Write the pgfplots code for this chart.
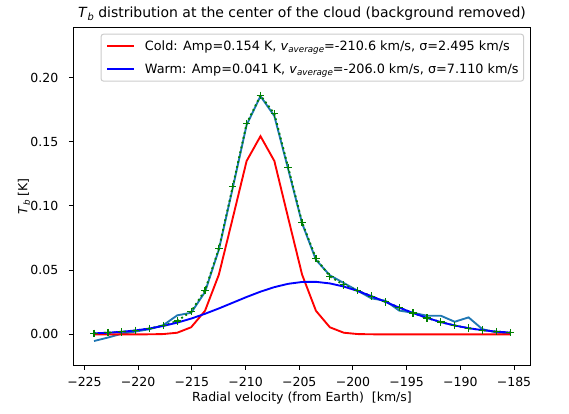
\documentclass[border=0pt]{standalone}
\usepackage{fontspec}
\setmainfont{DejaVu Sans}
\usepackage{pgfplots}
\pgfplotsset{compat=1.18}
\definecolor{mplblue}{HTML}{1F77B4}
\definecolor{mplgreen}{HTML}{008000}
\newcommand{\subten}[1]{\raisebox{-2.0pt}{\fontsize{7}{8}\selectfont\itshape #1}}
\newcommand{\subtwelve}[1]{\raisebox{-2.2pt}{\fontsize{7.9}{9}\selectfont\itshape #1}}
\begin{document}
\begin{tikzpicture}
\useasboundingbox (0,0) rectangle (455.2pt,331.2pt);
\begin{axis}[
  at={(58.64pt,38.96pt)}, anchor=south west,
  scale only axis, width=365.9pt, height=270.4pt,
  xmin=-226.04, xmax=-183.45, ymin=-0.0241, ymax=0.2391,
  xtick={-225,-220,-215,-210,-205,-200,-195,-190,-185},
  xticklabels={−225,−220,−215,−210,−205,−200,−195,−190,−185},
  ytick={0,0.05,0.1,0.15,0.2},
  yticklabels={0.00,0.05,0.10,0.15,0.20},
  xtick pos=bottom, ytick pos=left,
  tick align=outside, major tick length=3.5pt,
  tick style={black, line width=0.8pt},
  axis line style={black, line width=0.8pt},
  ticklabel style={font=\fontsize{10}{12}\selectfont},
  xticklabel style={anchor=base, inner sep=0pt, yshift=-13.2pt},
  yticklabel style={anchor=east, inner sep=0pt, xshift=-8.3pt},
  title={\textit{T}\subtwelve{b} distribution at the center of the cloud (background removed)},
  title style={at={(axis description cs:0.5,1)}, anchor=base, yshift=2pt, inner sep=0pt, font=\fontsize{11.2}{13}\selectfont},
  xlabel={Radial velocity (from Earth)\ \ [km/s]},
  xlabel style={at={(axis description cs:0.5,0)}, anchor=base, yshift=-29.2pt, inner sep=0pt, font=\fontsize{10}{12}\selectfont},
  ylabel={\textit{T}\subten{b} [K]},
  ylabel style={at={(axis description cs:-0.1077,0.5)}, anchor=center, inner sep=0pt, font=\fontsize{10}{12}\selectfont},
  legend style={at={(1,1)}, anchor=north east, xshift=-5.3pt, yshift=-5.1pt,
    draw=black!20, rounded corners=2pt, fill=white, line width=0.8pt,
    font=\fontsize{10.25}{12}\selectfont, inner xsep=4pt, inner ysep=5pt, row sep=9pt,
    nodes={inner sep=0pt},
    /tikz/every odd column/.append style={column sep=8pt}},
  legend cell align=left,
  legend image code/.code={\draw[#1, line width=1.5pt] (0pt,0pt) -- (21.6pt,0pt);},
]
% observed spectrum
\addplot[mplblue, line width=1.5pt, forget plot] coordinates {
(-224.110,-0.0052) (-222.818,-0.0025) (-221.527,0.0005) (-220.235,0.0022)
(-218.943,0.0040) (-217.652,0.0072) (-216.360,0.0148) (-215.068,0.0168)
(-213.776,0.0330) (-212.485,0.0660) (-211.193,0.1140) (-209.901,0.1630)
(-208.610,0.1855) (-207.318,0.1700) (-206.026,0.1285) (-204.735,0.0865)
(-203.443,0.0580) (-202.151,0.0460) (-200.859,0.0400) (-199.568,0.0340)
(-198.276,0.0280) (-196.984,0.0262) (-195.693,0.0185) (-194.401,0.0168)
(-193.109,0.0145) (-191.818,0.0145) (-190.526,0.0098) (-189.234,0.0132)
(-187.942,0.0040) (-186.651,0.0015) (-185.359,0.0008)
};
% total fit
\addplot[mplgreen, line width=1.5pt, dash pattern=on 1.5pt off 2.475pt, mark=+, mark size=3pt, mark options={solid, line width=1pt}, forget plot] coordinates {
(-224.110,0.00077) (-222.818,0.00126) (-221.527,0.00199) (-220.235,0.00306)
(-218.943,0.00458) (-217.652,0.00678) (-216.360,0.01038) (-215.068,0.01778)
(-213.776,0.0343) (-212.485,0.06667) (-211.193,0.11512) (-209.901,0.16409)
(-208.610,0.1860) (-207.318,0.17177) (-206.026,0.12986) (-204.735,0.08728)
(-203.443,0.05918) (-202.151,0.04516) (-200.859,0.03853) (-199.568,0.03402)
(-198.276,0.02973) (-196.984,0.02530) (-195.693,0.02083) (-194.401,0.01659)
(-193.109,0.01279) (-191.818,0.00954) (-190.526,0.00689) (-189.234,0.00481)
(-187.942,0.00326) (-186.651,0.00213) (-185.359,0.00135)
};
% cold component
\addplot[red, line width=1.5pt] coordinates {
(-224.110,0) (-222.818,0) (-221.527,0) (-220.235,0)
(-218.943,0.00003) (-217.652,0.00023) (-216.360,0.00127) (-215.068,0.00551)
(-213.776,0.0183) (-212.485,0.0465) (-211.193,0.0905) (-209.901,0.1350)
(-208.610,0.1543) (-207.318,0.1350) (-206.026,0.0905) (-204.735,0.0465)
(-203.443,0.0183) (-202.151,0.00551) (-200.859,0.00127) (-199.568,0.00023)
(-198.276,0.00003) (-196.984,0) (-195.693,0) (-194.401,0)
(-193.109,0) (-191.818,0) (-190.526,0) (-189.234,0)
(-187.942,0) (-186.651,0) (-185.359,0)
};
\addlegendentry{Cold: Amp=0.154 K, \textit{v}\subten{average}=-210.6 km/s, σ=2.495 km/s}
% warm component
\addplot[blue, line width=1.5pt] coordinates {
(-224.110,0.00077) (-222.818,0.00126) (-221.527,0.00199) (-220.235,0.00306)
(-218.943,0.00455) (-217.652,0.00655) (-216.360,0.00911) (-215.068,0.01227)
(-213.776,0.01600) (-212.485,0.02017) (-211.193,0.02462) (-209.901,0.02909)
(-208.610,0.03324) (-207.318,0.03677) (-206.026,0.03936) (-204.735,0.04078)
(-203.443,0.04088) (-202.151,0.03966) (-200.859,0.03723) (-199.568,0.03382)
(-198.276,0.02973) (-196.984,0.02530) (-195.693,0.02083) (-194.401,0.01659)
(-193.109,0.01279) (-191.818,0.00954) (-190.526,0.00689) (-189.234,0.00481)
(-187.942,0.00326) (-186.651,0.00213) (-185.359,0.00135)
};
\addlegendentry{Warm: Amp=0.041 K, \textit{v}\subten{average}=-206.0 km/s, σ=7.110 km/s}
\end{axis}
\end{tikzpicture}
\end{document}
